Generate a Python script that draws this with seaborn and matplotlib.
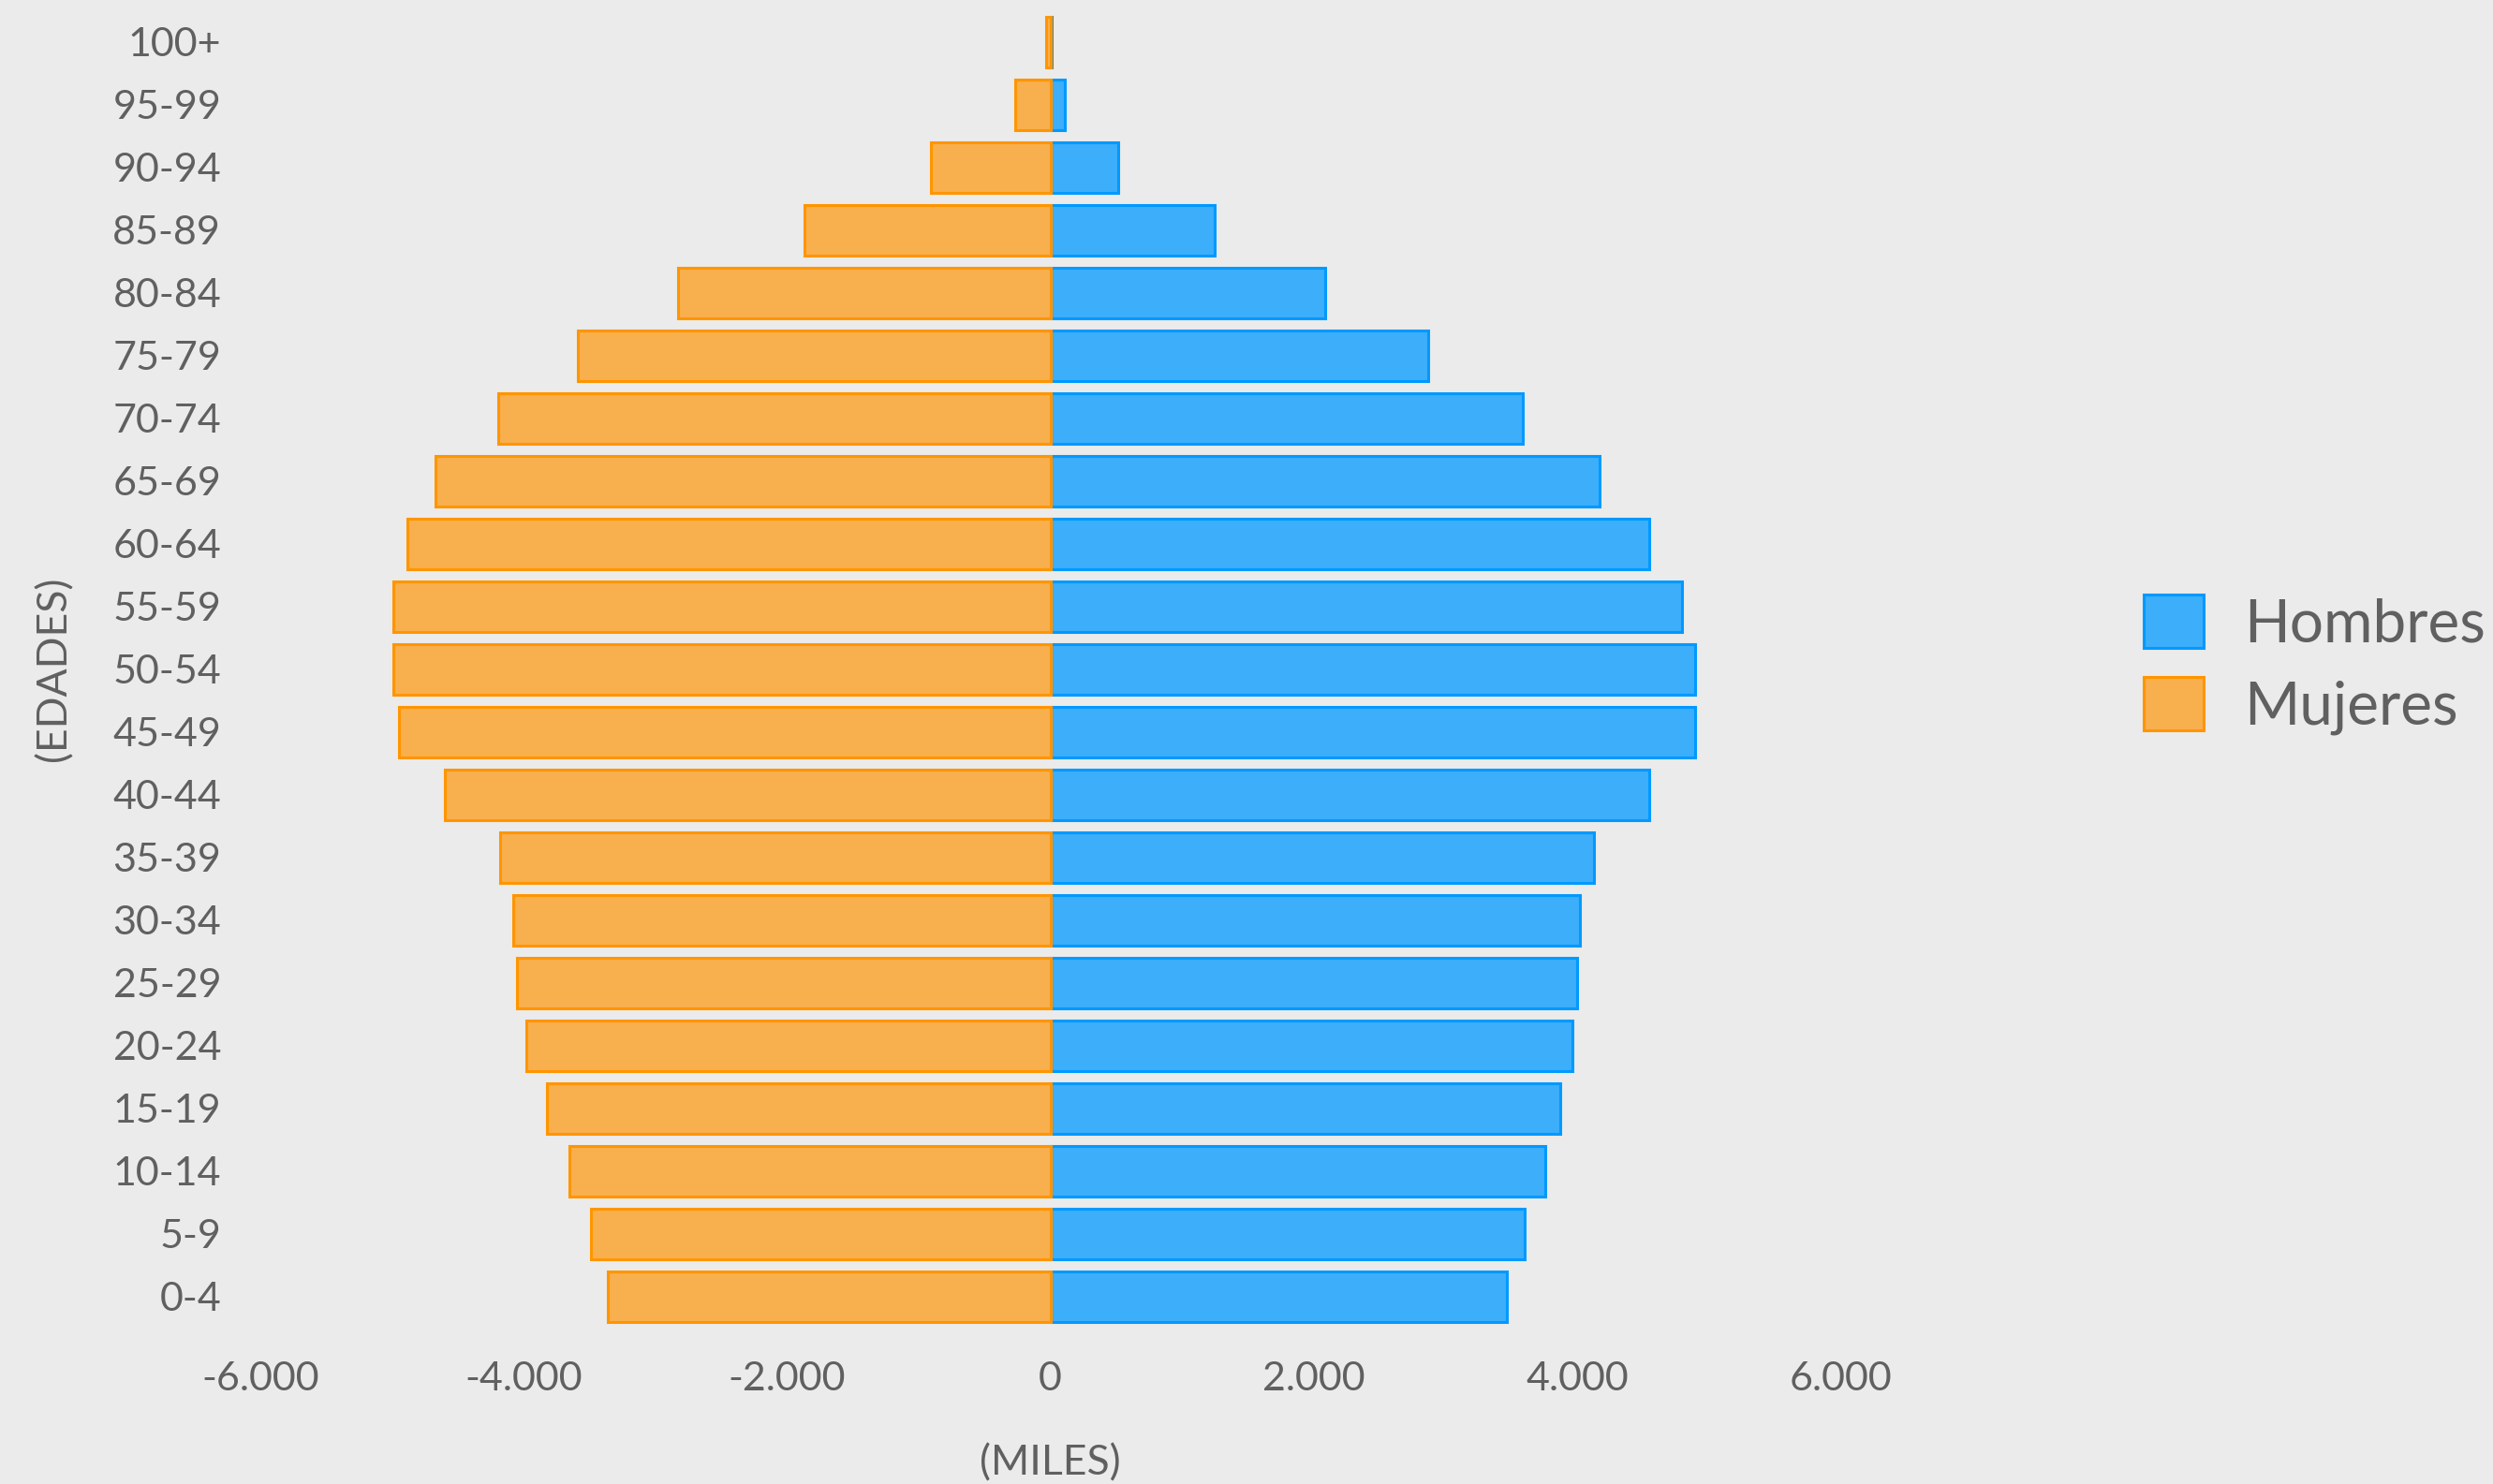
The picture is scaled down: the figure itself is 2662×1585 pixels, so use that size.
import seaborn as sns
import matplotlib.pyplot as plt
import pandas as pd
from matplotlib.patches import Patch
from matplotlib.ticker import FuncFormatter

edades = ["100+", "95-99", "90-94", "85-89", "80-84", "75-79", "70-74",
          "65-69", "60-64", "55-59", "50-54", "45-49", "40-44", "35-39",
          "30-34", "25-29", "20-24", "15-19", "10-14", "5-9", "0-4"]
hombres = [10, 110, 515, 1250, 2085, 2870, 3590, 4170, 4550, 4800, 4895,
           4895, 4550, 4130, 4025, 4000, 3965, 3870, 3760, 3600, 3470]
mujeres = [35, 265, 905, 1870, 2830, 3590, 4190, 4670, 4880, 4990, 4990,
           4950, 4595, 4180, 4080, 4050, 3980, 3820, 3650, 3490, 3360]
xticks = [-6000, -4000, -2000, 0, 2000, 4000, 6000]

azul = "#0099ff"
azul_relleno = "#3daefa"
naranja = "#ff9500"
naranja_relleno = "#f8af4e"
fondo = "#ebebeb"
gris = "#606060"

df = pd.DataFrame({
    "edad": edades * 2,
    "valor": hombres + [-m for m in mujeres],
    "sexo": ["Hombres"] * len(edades) + ["Mujeres"] * len(edades),
})

sns.set_style("white")
plt.rcParams["font.family"] = ["Lato", "DejaVu Sans"]

fig = plt.figure(figsize=(26.62, 15.85), dpi=100, facecolor=fondo)
ax = fig.add_axes([0.1044, 0.1052, 0.6338, 0.8877], facecolor=fondo)

sns.barplot(data=df, x="valor", y="edad", hue="sexo", order=edades,
            hue_order=["Hombres", "Mujeres"], dodge=False, width=0.81,
            palette={"Hombres": azul_relleno, "Mujeres": naranja_relleno},
            saturation=1, legend=False, ax=ax)

# borde sólido más intenso que el relleno
for cont, col in zip(ax.containers, [azul, naranja]):
    for bar in cont:
        bar.set_edgecolor(col)
        bar.set_linewidth(2.2)
        bar.set_zorder(3 if col == naranja else 2)

ax.set_xlim(-6000, 6000)
ax.set_xticks(xticks)
ax.xaxis.set_major_formatter(FuncFormatter(lambda v, p: f"{v:,.0f}".replace(",", ".")))
ax.tick_params(axis="both", length=0, labelsize=31, labelcolor=gris)
ax.tick_params(axis="x", pad=26)
ax.tick_params(axis="y", pad=30)
for s in ax.spines.values():
    s.set_visible(False)

ax.set_xlabel("(MILES)", fontsize=32, color=gris)
ax.set_ylabel("(EDADES)", fontsize=32, color=gris)
ax.xaxis.set_label_coords(0.5, -0.088)
ax.yaxis.set_label_coords(-0.118, 0.5)

handles = [Patch(facecolor=f, edgecolor=c, linewidth=2.2)
           for f, c in [(azul_relleno, azul), (naranja_relleno, naranja)]]
fig.legend(handles, ["Hombres", "Mujeres"], loc="center left",
           bbox_to_anchor=(0.86, 0.552), frameon=False, fontsize=46,
           labelcolor=gris, handlelength=1, handleheight=1,
           handletextpad=0.67, labelspacing=0.42, borderpad=0, borderaxespad=0)

plt.savefig("out.png", facecolor=fondo)
plt.close()
